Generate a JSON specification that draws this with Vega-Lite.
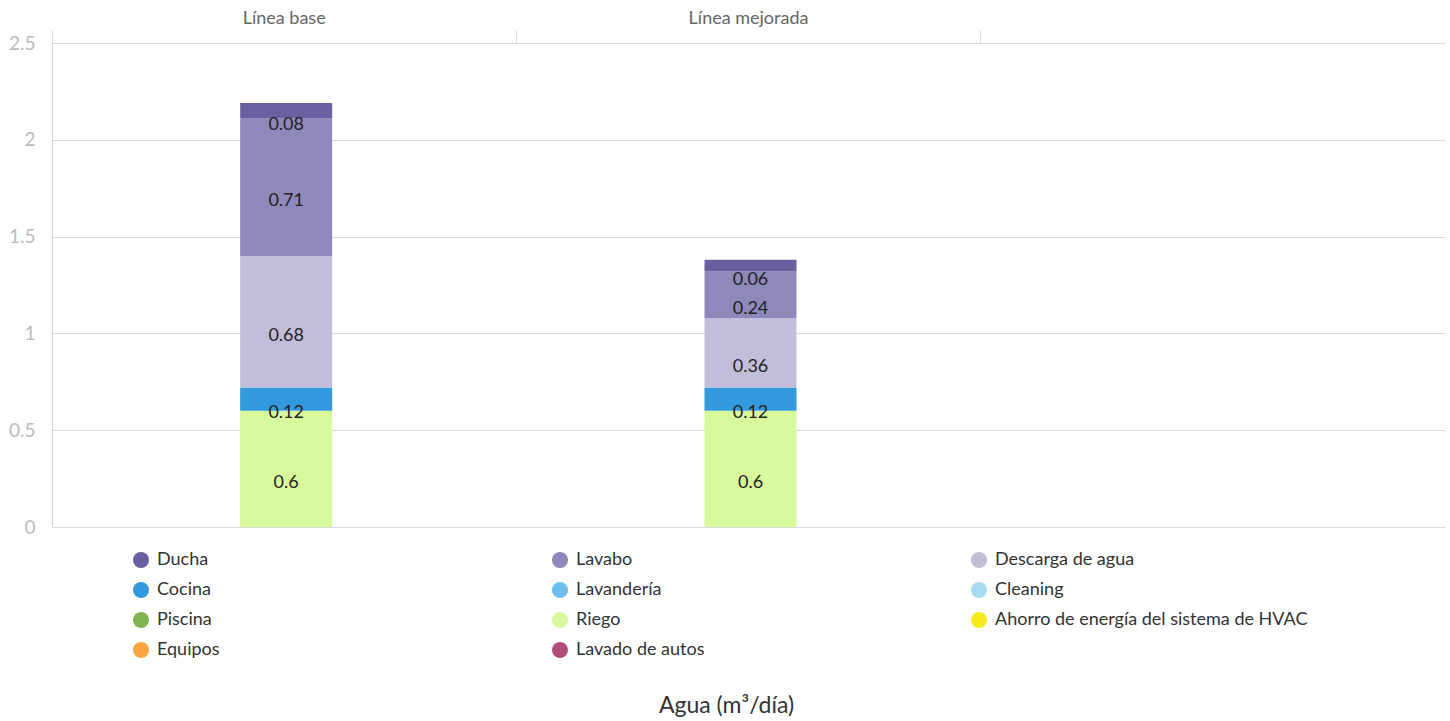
{
  "$schema": "https://vega.github.io/schema/vega-lite/v6.json",
  "autosize": {"type": "none"},
  "width": 1393,
  "height": 484,
  "padding": {"left": 52, "top": 43, "right": 5, "bottom": 194},
  "background": "white",
  "config": {
    "font": "Lato",
    "view": {"stroke": null},
    "axis": {"labelFont": "Lato", "titleFont": "Lato"},
    "legend": {"labelFont": "Lato"}
  },
  "title": {
    "text": "Agua (m³/día)",
    "orient": "bottom",
    "anchor": "middle",
    "font": "Lato",
    "fontSize": 23,
    "fontWeight": "normal",
    "color": "#333333",
    "offset": 36,
    "dx": -22
  },
  "data": {
    "values": [
      {"linea": "Línea base", "uso": "Riego", "rango": 1, "valor": 0.6},
      {"linea": "Línea base", "uso": "Cocina", "rango": 2, "valor": 0.12},
      {"linea": "Línea base", "uso": "Descarga de agua", "rango": 3, "valor": 0.68},
      {"linea": "Línea base", "uso": "Lavabo", "rango": 4, "valor": 0.71},
      {"linea": "Línea base", "uso": "Ducha", "rango": 5, "valor": 0.08},
      {"linea": "Línea mejorada", "uso": "Riego", "rango": 1, "valor": 0.6},
      {"linea": "Línea mejorada", "uso": "Cocina", "rango": 2, "valor": 0.12},
      {"linea": "Línea mejorada", "uso": "Descarga de agua", "rango": 3, "valor": 0.36},
      {"linea": "Línea mejorada", "uso": "Lavabo", "rango": 4, "valor": 0.24},
      {"linea": "Línea mejorada", "uso": "Ducha", "rango": 5, "valor": 0.06}
    ]
  },
  "transform": [
    {"stack": "valor", "groupby": ["linea"], "sort": [{"field": "rango", "order": "ascending"}], "as": ["v0", "v1"]},
    {"calculate": "(datum.v0 + datum.v1) / 2", "as": "vmid"}
  ],
  "encoding": {
    "x": {
      "field": "linea",
      "type": "nominal",
      "scale": {"domain": ["Línea base", "Línea mejorada", " "], "paddingInner": 0, "paddingOuter": 0},
      "axis": {
        "orient": "top",
        "title": null,
        "labelAngle": 0,
        "labelFontSize": 18,
        "labelColor": "#666666",
        "labelPadding": 3,
        "bandPosition": 0,
        "tickSize": 13,
        "tickColor": "#dddddd",
        "domain": false,
        "grid": false
      }
    }
  },
  "layer": [
    {
      "mark": {"type": "bar", "size": 92, "xOffset": 2},
      "encoding": {
        "y": {
          "field": "v0",
          "type": "quantitative",
          "scale": {"domain": [0, 2.5], "nice": false},
          "axis": {
            "title": null,
            "values": [0, 0.5, 1, 1.5, 2, 2.5],
            "format": "~g",
            "labelFontSize": 19,
            "labelColor": "#bbbbbb",
            "labelPadding": 17,
            "ticks": false,
            "domainColor": "#d0d0d0",
            "gridColor": "#d9d9d9",
            "grid": true
          }
        },
        "y2": {"field": "v1"},
        "color": {
          "field": "uso",
          "type": "nominal",
          "scale": {
            "domain": ["Ducha", "Lavabo", "Descarga de agua", "Cocina", "Lavandería", "Cleaning", "Piscina", "Riego", "Ahorro de energía del sistema de HVAC", "Equipos", "Lavado de autos"],
            "range": ["#6a5fa0", "#8f88bb", "#c2bdd8", "#3399dd", "#6fbcee", "#a7dbf2", "#80b451", "#d8fa9c", "#f5ea1c", "#f9a63f", "#b24d77"]
          },
          "legend": {
            "title": null,
            "orient": "none",
            "legendX": 80,
            "legendY": 508,
            "direction": "horizontal",
            "columns": 3,
            "gridAlign": "all",
            "columnPadding": 81,
            "rowPadding": 12,
            "padding": 0,
            "symbolType": "circle",
            "symbolSize": 256,
            "symbolStrokeWidth": 0,
            "symbolOpacity": 1,
            "labelFontSize": 18,
            "labelColor": "#333333",
            "labelOffset": 7,
            "labelLimit": 400,
            "values": ["Ducha", "Lavabo", "Descarga de agua", "Cocina", "Lavandería", "Cleaning", "Piscina", "Riego", "Ahorro de energía del sistema de HVAC", "Equipos", "Lavado de autos"]
          }
        }
      }
    },
    {
      "mark": {"type": "text", "fontSize": 18, "color": "#222222", "baseline": "middle", "dy": 14, "dx": 2},
      "encoding": {
        "y": {"field": "vmid", "type": "quantitative"},
        "text": {"field": "valor", "type": "quantitative"}
      }
    }
  ]
}
